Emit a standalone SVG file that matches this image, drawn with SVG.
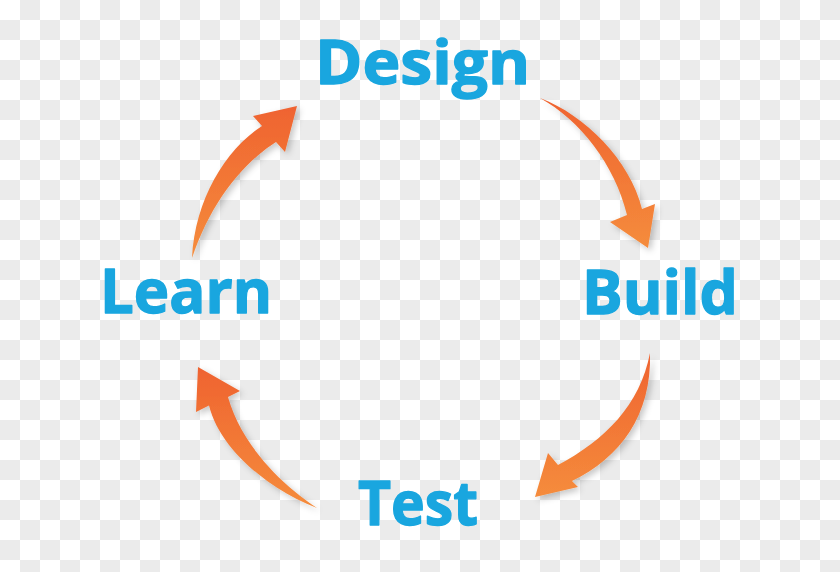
<svg xmlns="http://www.w3.org/2000/svg" width="840" height="572" viewBox="0 0 840 572">
<style>
.label{font-family:"Open Sans","Noto Sans","Liberation Sans",sans-serif;font-weight:700;font-size:60px;fill:#19a6df;stroke:#19a6df;stroke-width:1.3;stroke-linejoin:round}
.arrow{filter:url(#shadow)}
</style>
<defs>
<pattern id="checker" width="40" height="40" patternUnits="userSpaceOnUse">
<rect width="40" height="40" fill="#ffffff"/>
<rect x="20" y="0" width="20" height="20" fill="#ebebeb"/>
<rect x="0" y="20" width="20" height="20" fill="#ebebeb"/>
</pattern>
<linearGradient id="og" x1="0" y1="0" x2="0" y2="1">
<stop offset="0" stop-color="#ef6330"/>
<stop offset="1" stop-color="#f58c3c"/>
</linearGradient>
<filter id="shadow" x="-20%" y="-20%" width="150%" height="150%">
<feDropShadow dx="3" dy="3" stdDeviation="3" flood-color="#000" flood-opacity="0.22"/>
</filter>
</defs>
<rect width="840" height="572" fill="url(#checker)"/>
<g id="connectors">
<path class="arrow" fill="url(#og)" d="M540,98 C585,115 630,160 642,209 L655,204 L648,248 L610,222 L627,215 C615,165 580,120 540,98 Z"/>
<path class="arrow" fill="url(#og)" d="M650,353 C652,415 620,458 572,481 L578,487 L535,497 L548,453 L558,465 C605,440 640,405 650,353 Z"/>
<path class="arrow" fill="url(#og)" d="M317,508 C270,490 220,450 209,405.5 L196,412 L198,367 L240,391 L228,397 C240,440 275,480 317,508 Z"/>
<path class="arrow" fill="url(#og)" d="M192,258 C195,200 225,150 262,126 L253,116 L297,106 L285,152 L276,142 C240,165 210,205 192,258 Z"/>
</g>
<g id="design"><text class="label" x="315" y="84" textLength="215" lengthAdjust="spacingAndGlyphs">Design</text></g>
<g id="build"><text class="label" x="582" y="314" textLength="156" lengthAdjust="spacingAndGlyphs">Build</text></g>
<g id="test"><text class="label" x="358" y="525" textLength="120" lengthAdjust="spacingAndGlyphs">Test</text></g>
<g id="learn"><text class="label" x="100" y="313" textLength="172" lengthAdjust="spacingAndGlyphs">Learn</text></g>
</svg>
